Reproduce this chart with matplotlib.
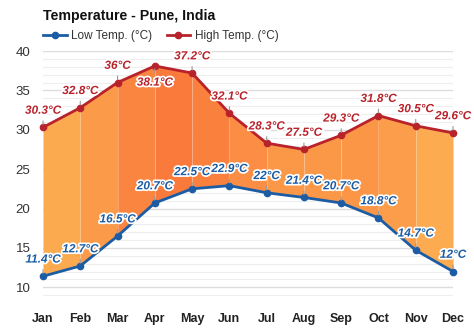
import matplotlib
matplotlib.use('Agg')
import matplotlib.pyplot as plt
import matplotlib.patheffects as pe
from matplotlib.colors import LinearSegmentedColormap, Normalize
import numpy as np

plt.rcParams['font.family'] = ['Liberation Sans', 'DejaVu Sans']

months = ['Jan', 'Feb', 'Mar', 'Apr', 'May', 'Jun', 'Jul', 'Aug', 'Sep', 'Oct', 'Nov', 'Dec']
high = [30.3, 32.8, 36, 38.1, 37.2, 32.1, 28.3, 27.5, 29.3, 31.8, 30.5, 29.6]
low = [11.4, 12.7, 16.5, 20.7, 22.5, 22.9, 22, 21.4, 20.7, 18.8, 14.7, 12]
high_below = ['Apr']  # label sits under the point

high_col = '#B8222B'
low_col = '#1C5CA4'

fig = plt.figure(figsize=(4.74, 3.31), dpi=100)
ax = fig.add_axes([43/474, 28/331, 410/474, 252/331])

x = np.arange(len(months))

# fill between low and high, one band per month pair, shaded by warmth
cmap = LinearSegmentedColormap.from_list('warm', ['#FCAB50', '#FA7A3C'])
mid = (np.array(high) + np.array(low)) / 2
seg = (mid[:-1] + mid[1:]) / 2
norm = Normalize(seg.min(), seg.max())
for i in range(len(months) - 1):
    ax.fill_between(x[i:i+2], low[i:i+2], high[i:i+2], color=cmap(norm(seg[i])), lw=0, zorder=2)
ax.vlines(x[1:-1], np.array(low)[1:-1], np.array(high)[1:-1], color='white', alpha=0.18, lw=0.8, zorder=2.5)

ax.plot(x, high, color=high_col, lw=2, marker='o', ms=4.5, zorder=4, clip_on=False, label='High Temp. (°C)')
ax.plot(x, low, color=low_col, lw=2, marker='o', ms=4.5, zorder=4, clip_on=False, label='Low Temp. (°C)')

stroke = [pe.withStroke(linewidth=2.5, foreground='white')]
for i, m in enumerate(months):
    dy = -12 if m in high_below else 12
    ax.annotate(f'{high[i]:g}°C', (x[i], high[i]), xytext=(0, dy), textcoords='offset points',
                ha='center', va='center', fontsize=8.5, fontweight='bold', fontstyle='italic',
                color=high_col, path_effects=stroke, zorder=5,
                arrowprops=dict(arrowstyle='-', color='#999999', lw=0.8, shrinkA=1, shrinkB=2))
    ax.annotate(f'{low[i]:g}°C', (x[i], low[i]), xytext=(0, 12), textcoords='offset points',
                ha='center', va='center', fontsize=8.5, fontweight='bold', fontstyle='italic',
                color=low_col, path_effects=stroke, zorder=5,
                arrowprops=dict(arrowstyle='-', color='#999999', lw=0.8, shrinkA=1, shrinkB=2))

ax.set_xlim(0, 11)
ax.set_ylim(8, 40)
ax.set_xticks(x)
ax.set_xticklabels(months, fontweight='bold', fontsize=9, color='#222222')
ax.set_yticks(range(10, 41, 5))
ax.set_yticks(range(8, 41), minor=True)
ax.tick_params(axis='y', labelsize=9.5, colors='#333333', length=0, pad=9, which='both')
ax.tick_params(axis='x', length=0, pad=7)
ax.grid(axis='y', which='major', color='#dddddd', lw=1, zorder=0)
ax.grid(axis='y', which='minor', color='#eeeeee', lw=0.8, zorder=0)
for s in ax.spines.values():
    s.set_visible(False)

fig.text(43/474, 1 - 16/331, 'Temperature - Pune, India', fontsize=10.2, fontweight='bold',
         ha='left', va='center', color='#111111')
h, l = ax.get_legend_handles_labels()
fig.legend(h[::-1], l[::-1], loc='center left', bbox_to_anchor=(43/474, 1 - 36/331), ncol=2,
           frameon=False, fontsize=8.5, handlelength=2.0, handletextpad=0.4, columnspacing=1.2,
           borderpad=0, borderaxespad=0, labelcolor='#333333')

fig.savefig('out.png', dpi=100, facecolor='white')
